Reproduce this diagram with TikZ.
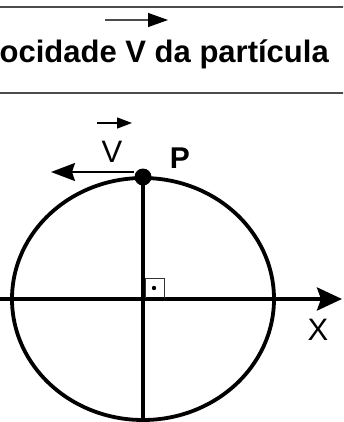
\documentclass[tikz,border=0pt]{standalone}
\usepackage{fontspec}
\setmainfont{Liberation Sans}
\usetikzlibrary{arrows.meta}
\begin{document}
\begin{tikzpicture}[x=1pt,y=-1pt,
  rule/.style={draw=black!70,line width=1.7pt},
  thick line/.style={line width=3.8pt,black},
  lbl/.style={inner sep=0pt,anchor=base,font=\fontsize{31}{31}\selectfont},
  blbl/.style={inner sep=0pt,anchor=base,font=\fontsize{30}{30}\selectfont\bfseries},
  vecarrow/.style={line width=1.3pt}]
\useasboundingbox (0,0) rectangle (343,422);
\clip (0,0) rectangle (343,422);
% title band
\draw[rule] (-5,7) -- (350,7);
\draw[rule] (-5,93) -- (350,93);
\node[inner sep=0pt,anchor=base west,font=\fontsize{31}{31}\selectfont\bfseries] (title) at (-0.5,63) {ocidade V da partícula};
\coordinate (ta) at (105,20);
\coordinate (tb) at (168,20);
\draw[vecarrow,draw=black!70,-{Triangle[length=20pt,width=14pt,black]}] (ta) -- (tb);
% ellipse
\coordinate (O) at (143,299);
\draw[thick line] (O) ellipse [x radius=131pt,y radius=121pt];
% axes
\coordinate (L) at (-5,299);
\coordinate (R) at (342,299);
\draw[thick line,-{Stealth[length=25pt,width=23pt,inset=4pt]}] (L) -- (R);
\node[circle,fill=black,inner sep=0pt,minimum size=17pt] (P) at (143,177) {};
\coordinate (B) at (143,430);
\draw[line width=3.5pt] (P.center) -- (B);
% right angle mark
\draw[line width=1.1pt,black!80] (145.5,298) -- (145.5,278.5) -- (164.5,278.5) -- (164.5,298);
\fill (154,288) circle[radius=2.2pt];
% velocity arrow
\coordinate (va) at (134,172);
\coordinate (vb) at (51,172);
\draw[line width=1.8pt,-{Stealth[length=24pt,width=18pt,inset=3pt]}] (va) -- (vb);
% labels
\node[lbl] (V) at (112,162) {V};
\coordinate (sa) at (97,123);
\coordinate (sb) at (132,123);
\draw[vecarrow,-{Triangle[length=15pt,width=11pt]}] (sa) -- (sb);
\node[blbl] (Plbl) at (180,168) {P};
\node[lbl] (X) at (318,340) {X};
\end{tikzpicture}
\end{document}
